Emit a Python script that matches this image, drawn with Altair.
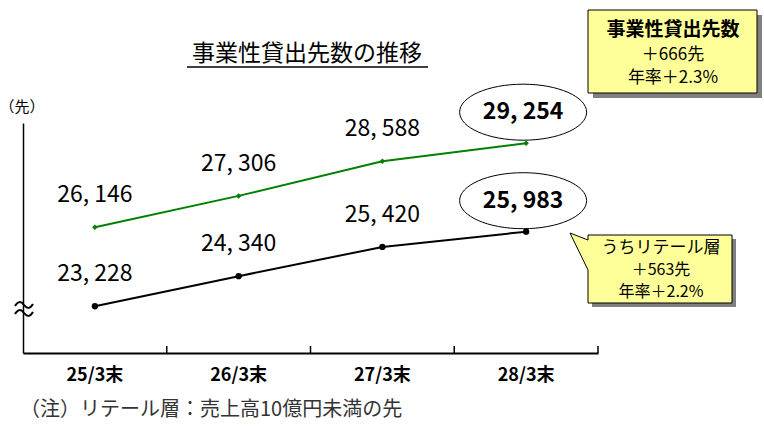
import altair as alt
import pandas as pd

# ---- data ----
categories = ["25/3末", "26/3末", "27/3末", "28/3末"]
total_counts = [26146, 27306, 28588, 29254]
retail_counts = [23228, 24340, 25420, 25983]
series_names = ["事業性貸出先数", "うちリテール層"]
series_colors = ["#008000", "#000000"]

title_text = "事業性貸出先数の推移"
unit_text = "（先）"
note_text = "（注）リテール層：売上高10億円未満の先"
box1_lines = ["事業性貸出先数", "＋666先", "年率＋2.3%"]
box2_lines = ["うちリテール層", "＋563先", "年率＋2.2%"]

JP = "Noto Sans CJK JP"
NUM = JP

rows = []
for name, vals in zip(series_names, [total_counts, retail_counts]):
    for i, (c, v) in enumerate(zip(categories, vals)):
        rows.append({
            "cat": c, "value": v, "series": name,
            "label": f"{v:,}".replace(",", ", "),
            "last": i == len(categories) - 1,
        })
df = pd.DataFrame(rows)

W, H = 575, 230
PL, PT = 23, 123

x_enc = alt.X("cat:N", sort=categories,
              scale=alt.Scale(type="band", paddingInner=0, paddingOuter=0),
              bandPosition=0.5,
              axis=alt.Axis(title=None, ticks=False, grid=False, domain=True,
                            domainColor="black", domainWidth=2,
                            labelFont=NUM, labelFontSize=18, labelFontWeight="bold",
                            labelColor="black", labelPadding=13, labelAngle=0))
y_enc = alt.Y("value:Q",
              scale=alt.Scale(domain=[21500, 30000], nice=False, zero=False),
              axis=alt.Axis(title=None, ticks=False, labels=False, grid=False,
                            domain=True, domainColor="black", domainWidth=1.5))
color_enc = alt.Color("series:N", scale=alt.Scale(domain=series_names, range=series_colors),
                      legend=None)

base = alt.Chart(df)
one = alt.Data(values=[{"k": 0}])


def shape_layer(path, fill, stroke, sw=1.0, filled=True):
    kw = dict(shape=path, size=4, strokeWidth=sw, opacity=1)
    if filled:
        kw.update(filled=True, fill=fill, fillOpacity=1)
    else:
        kw.update(filled=False, fillOpacity=0)
    if stroke:
        kw.update(stroke=stroke)
    else:
        kw.update(strokeOpacity=0)
    return alt.Chart(one).mark_point(**kw).encode(x=alt.value(-PL), y=alt.value(-PT))


def text_layer(text, px, py, size, weight="normal", font=JP, color="black", align="center"):
    return alt.Chart(alt.Data(values=[{"t": text}])).mark_text(
        fontSize=size, fontWeight=weight, font=font, color=color, align=align,
        baseline="middle").encode(x=alt.value(px - PL), y=alt.value(py - PT), text="t:N")


# callout boxes
box1_shadow = shape_layer("M593,15 L762,15 L762,98 L593,98 Z", "#808080", None)
box1 = shape_layer("M588,10 L757,10 L757,93 L588,93 Z", "#FFFF99", "black")
box2_shadow = shape_layer("M592,239 L736,239 L736,307 L592,307 Z", "#808080", None)
box2 = shape_layer("M588,235 L732,235 L732,303 L588,303 L588,270 L570,233 L588,240 Z",
                   "#FFFF99", "black")
breaks = shape_layer("M15,306 C18,301 21,301 24,305 C27,309 30,309 33,304 "
                     "M15,314 C18,309 21,309 24,313 C27,317 30,317 33,312",
                     None, "black", sw=2, filled=False)

ellipse_path = "M-66.5,-31 A63.5,28 0 1,1 60.5,-31 A63.5,28 0 1,1 -66.5,-31 Z"
ellipses = base.transform_filter("datum.last").mark_point(
    shape=ellipse_path, size=4, filled=True, fill="white", fillOpacity=1,
    stroke="black", strokeWidth=1, opacity=1).encode(x=x_enc, y=y_enc)

lines = base.mark_line(strokeWidth=2).encode(x=x_enc, y=y_enc, color=color_enc,
                                              detail="series:N")
pts_total = base.transform_filter(alt.datum.series == series_names[0]).mark_point(
    shape="diamond", size=30, filled=True, opacity=1).encode(x=x_enc, y=y_enc, color=color_enc)
pts_retail = base.transform_filter(alt.datum.series == series_names[1]).mark_point(
    shape="circle", size=40, filled=True, opacity=1).encode(x=x_enc, y=y_enc, color=color_enc)

labels = base.transform_filter("!datum.last").mark_text(
    dy=-32, fontSize=23, font=NUM, color="black", baseline="middle").encode(
    x=x_enc, y=y_enc, text="label:N")
last_labels = base.transform_filter("datum.last").mark_text(
    dy=-31, dx=-3, fontSize=23, fontWeight="bold", font=NUM, color="black",
    baseline="middle").encode(x=x_enc, y=y_enc, text="label:N")

# upward tick marks at band boundaries
ticks = base.transform_filter(
    alt.FieldOneOfPredicate(field="cat", oneOf=categories[1:])).transform_filter(
    alt.datum.series == series_names[0]).mark_rule(color="black", strokeWidth=1.5).encode(
    x=alt.X("cat:N", sort=categories, bandPosition=0,
            scale=alt.Scale(type="band", paddingInner=0, paddingOuter=0)),
    y=alt.value(H - 7), y2=alt.value(H))
end_tick = alt.Chart(one).mark_rule(color="black", strokeWidth=1.5).encode(
    x=alt.value(W), y=alt.value(H - 7), y2=alt.value(H))

title = text_layer(title_text, 307, 54, 23)
underline = alt.Chart(one).mark_rule(color="black", strokeWidth=1.5).encode(
    x=alt.value(187 - PL), x2=alt.value(428 - PL), y=alt.value(67 - PT))
unit = text_layer(unit_text, 22, 107, 15)
note = text_layer(note_text, 20, 410, 20, color="#333333", align="left")

b1 = [text_layer(box1_lines[0], 673, 30, 19, weight="bold"),
      text_layer(box1_lines[1], 673, 55, 17, font=NUM),
      text_layer(box1_lines[2], 673, 78, 17, font=NUM)]
b2 = [text_layer(box2_lines[0], 661, 248, 17),
      text_layer(box2_lines[1], 661, 270, 16, font=NUM),
      text_layer(box2_lines[2], 661, 292, 16, font=NUM)]

chart = alt.layer(
    box1_shadow, box1, box2_shadow, box2, ellipses, ticks, end_tick,
    lines, pts_total, pts_retail, labels, last_labels, breaks,
    title, underline, unit, note, *b1, *b2
).properties(
    width=W, height=H,
    autosize=alt.AutoSizeParams(type="none"),
    padding={"left": PL, "top": PT, "right": 764 - PL - W, "bottom": 427 - PT - H},
).configure_view(stroke=None)

chart.save("out.html", embed_options={"renderer": "svg", "actions": False})
